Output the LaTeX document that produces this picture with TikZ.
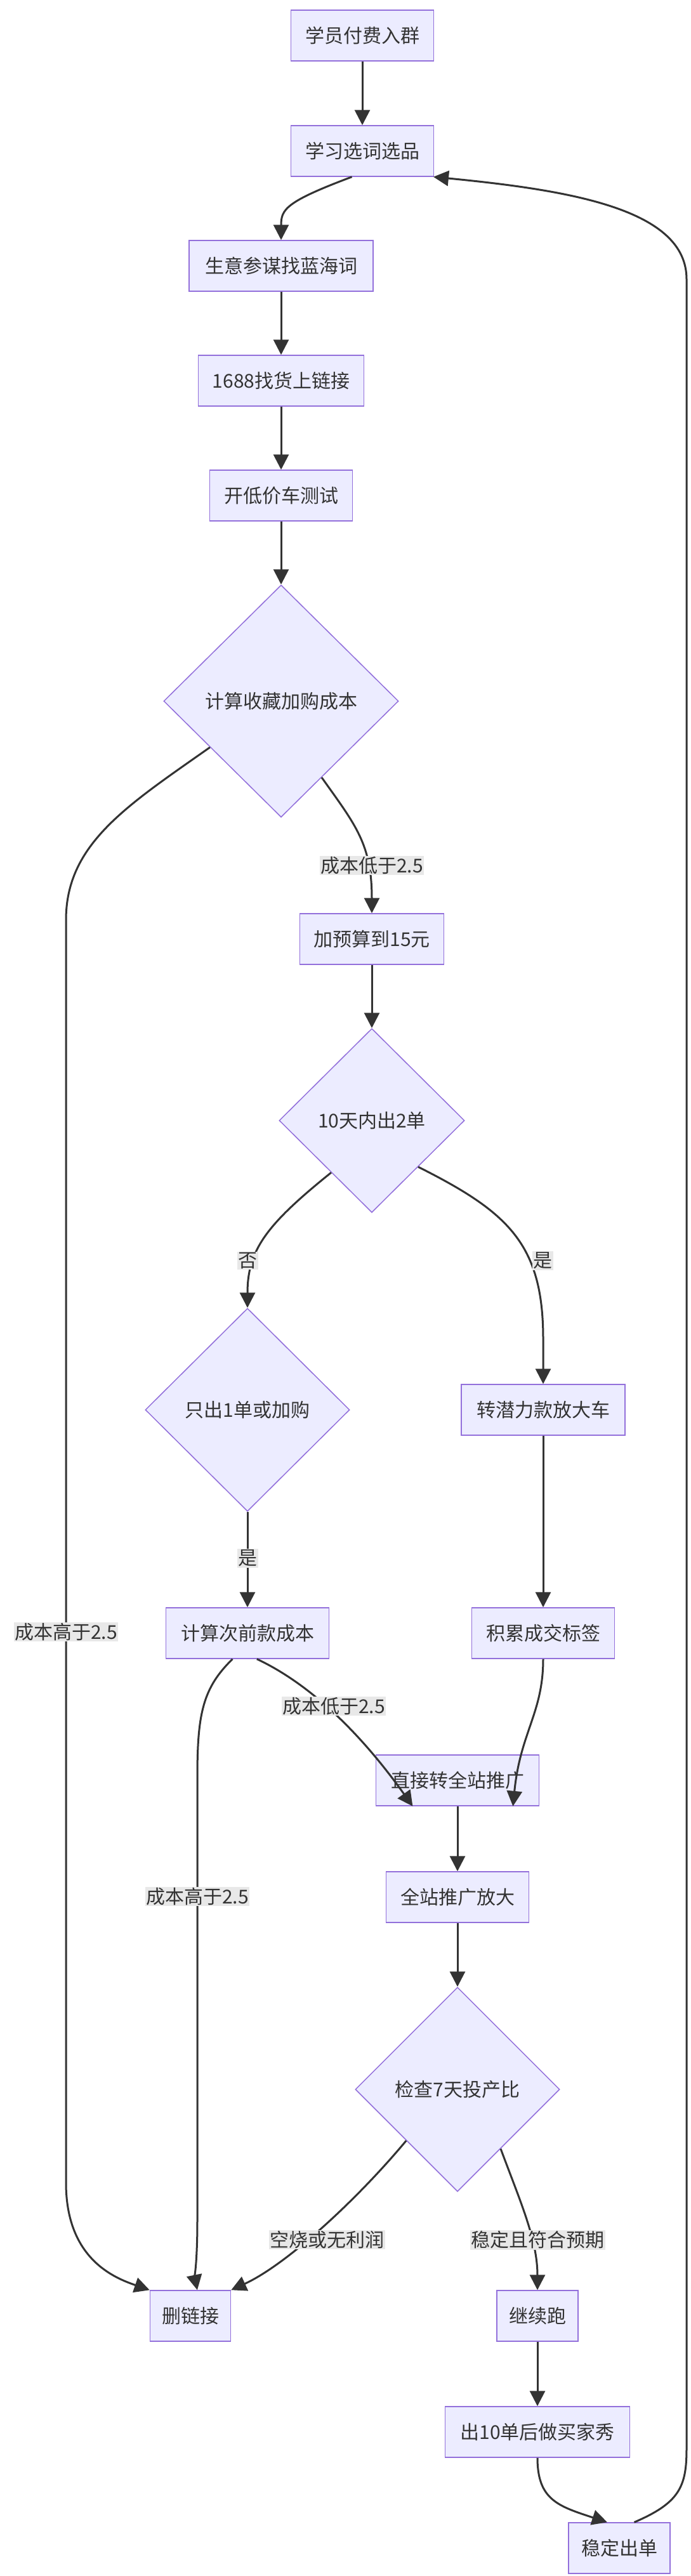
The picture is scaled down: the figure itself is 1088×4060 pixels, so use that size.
\documentclass[tikz,border=0pt]{standalone}
\usepackage{fontspec}
\setmainfont{Noto Sans CJK SC}
\usetikzlibrary{shapes.geometric,arrows.meta}
\definecolor{nfill}{HTML}{ECECFF}
\definecolor{nstroke}{HTML}{9370DB}
\definecolor{edge}{HTML}{333333}
\definecolor{lbg}{HTML}{E8E8E8}
\begin{document}
\begin{tikzpicture}[x=1pt,y=-1pt,
  box/.style={draw=nstroke,fill=nfill,line width=1.5pt,minimum height=80pt,inner xsep=16pt,font=\fontsize{30}{36}\selectfont,text=black!80},
  dia/.style={draw=nstroke,fill=nfill,line width=1.5pt,shape=diamond,aspect=1,inner sep=0pt,font=\fontsize{30}{36}\selectfont,text=black!80},
  ar/.style={draw=edge,line width=3pt,-{Triangle[length=24pt,width=24pt]}},
  lb/.style={fill=lbg,inner sep=1.5pt,font=\fontsize{30}{36}\selectfont,text=black!80}]
\useasboundingbox (0,0) rectangle (1088,4060);
\fill[white] (0,0) rectangle (1088,4060);
\node[box,minimum width=225pt] (n1) at (571,56) {学员付费入群};
\node[box,minimum width=225pt] (n2) at (571,238) {学习选词选品};
\node[box,minimum width=290pt] (n3) at (443,419) {生意参谋找蓝海词};
\node[box,minimum width=261pt] (n4) at (443,600) {1688找货上链接};
\node[box,minimum width=225pt] (n5) at (443,781) {开低价车测试};
\node[dia,minimum width=370pt,minimum height=366pt] (d1) at (443,1105) {计算收藏加购成本};
\node[box,minimum width=227pt] (n6) at (586,1480) {加预算到15元};
\node[dia,minimum width=292pt,minimum height=290pt] (d2) at (586,1766) {10天内出2单};
\node[dia,minimum width=322pt,minimum height=320pt] (d3) at (390,2222) {只出1单或加购};
\node[box,minimum width=258pt] (n7) at (856,2222) {转潜力款放大车};
\node[box,minimum width=257pt] (n8) at (390,2574) {计算次前款成本};
\node[box,minimum width=225pt] (n9) at (856,2574) {积累成交标签};
\node[box,minimum width=257pt] (n10) at (721,2806) {直接转全站推广};
\node[box,minimum width=225pt] (n11) at (721,2990) {全站推广放大};
\node[dia,minimum width=322pt,minimum height=322pt] (d4) at (721,3293) {检查7天投产比};
\node[box,minimum width=127pt] (n12) at (300,3650) {删链接};
\node[box,minimum width=128pt] (n13) at (847,3650) {继续跑};
\node[box,minimum width=291pt] (n14) at (847,3833) {出10单后做买家秀};
\node[box,minimum width=160pt] (n15) at (976,4016) {稳定出单};

\draw[ar] (n1) -- (n2);
\draw[ar] (n2.-112) .. controls (450,318) and (443,330) .. (n3.north);
\draw[ar] (n3) -- (n4);
\draw[ar] (n4) -- (n5);
\draw[ar] (n5) -- (d1.north);
\draw[ar] (d1.-62) .. controls (560,1300) and (586,1330) .. (n6.north);
\draw[ar] (n6) -- (d2.north);
\draw[ar] (d2.-128) .. controls (420,1930) and (390,1970) .. (d3.north);
\draw[ar] (d2.-45) .. controls (800,1910) and (856,1960) .. (856,2110) -- (n7.north);
\draw[ar] (d3.south) -- (n8.north);
\draw[ar] (n7) -- (n9);
\draw[ar] (n8.-70) .. controls (480,2650) and (560,2720) .. (n10.-150);
\draw[ar] (n9.south) .. controls (856,2700) and (820,2730) .. (n10.-25);
\draw[ar] (n8.-120) .. controls (320,2660) and (311,2700) .. (311,2800) -- (311,3500) .. controls (311,3560) and (307,3590) .. (n12.75);
\draw[ar] (d1.-147) .. controls (200,1270) and (104,1330) .. (104,1450) -- (104,3440) .. controls (104,3560) and (180,3590) .. (n12.north west);
\draw[ar] (n10) -- (n11);
\draw[ar] (n11) -- (d4.north);
\draw[ar] (d4.-135) .. controls (560,3470) and (450,3570) .. (n12.north east);
\draw[ar] (d4.-54) .. controls (820,3470) and (847,3530) .. (n13.north);
\draw[ar] (n13) -- (n14);
\draw[ar] (n14.south) .. controls (847,3940) and (880,3950) .. (n15.115);
\draw[ar] (n15.60) .. controls (1070,3945) and (1082,3920) .. (1082,3860) -- (1082,440) .. controls (1082,330) and (900,300) .. (n2.-20);

\node[lb] (l1) at (586,1364) {成本低于2.5};
\node[lb] (l2) at (390,1987) {否};
\node[lb] (l3) at (855,1987) {是};
\node[lb] (l4) at (390,2456) {是};
\node[lb] (l5) at (104,2572) {成本高于2.5};
\node[lb] (l6) at (526,2689) {成本低于2.5};
\node[lb] (l7) at (311,2989) {成本高于2.5};
\node[lb] (l8) at (515,3530) {空烧或无利润};
\node[lb] (l9) at (847,3530) {稳定且符合预期};
\end{tikzpicture}
\end{document}
